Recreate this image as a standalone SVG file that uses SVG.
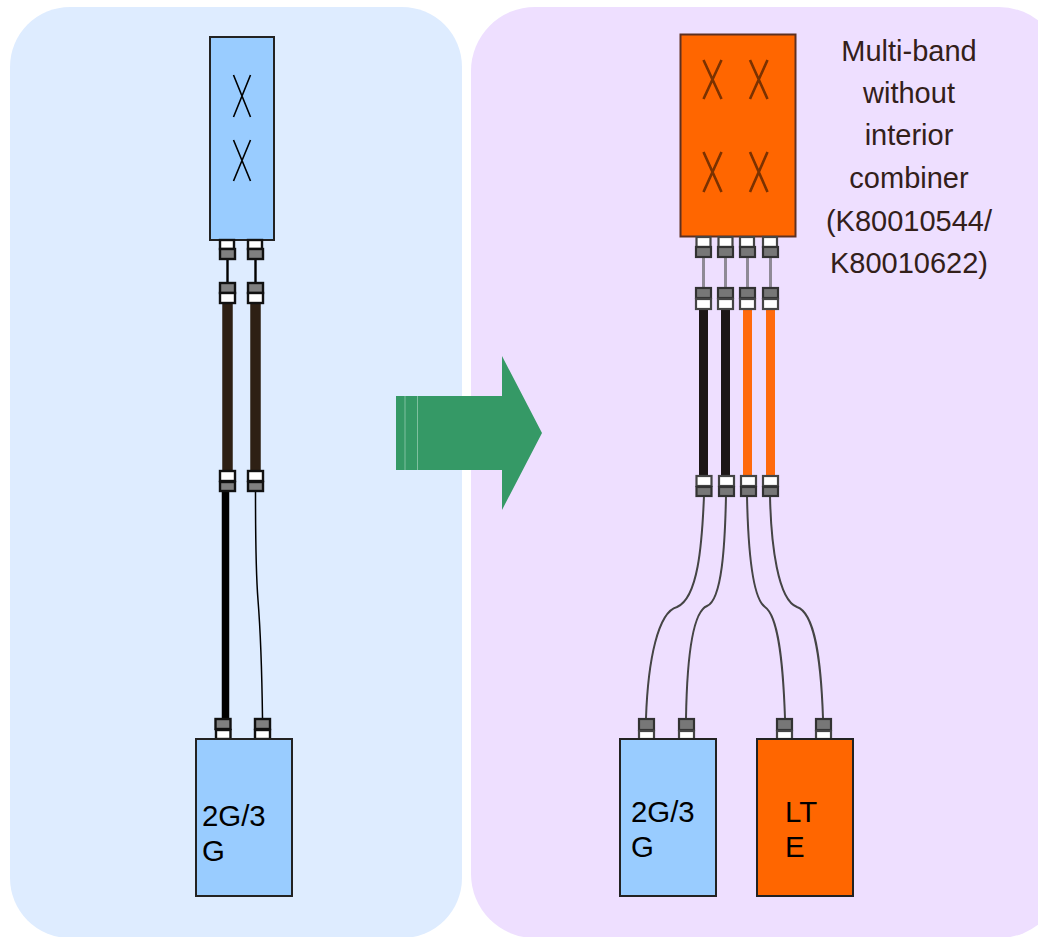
<svg xmlns="http://www.w3.org/2000/svg" width="1038" height="937" viewBox="0 0 1038 937">
<defs><filter id="soft" x="-5%" y="-5%" width="110%" height="110%"><feGaussianBlur stdDeviation="0.5"/></filter></defs>
<style>
.t{font-family:"Liberation Sans",Arial,sans-serif;font-size:29.4px;fill:#000}
.n{font-family:"Liberation Sans",Arial,sans-serif;font-size:29px;fill:#33201a;text-anchor:middle}
.w{fill:#fff;stroke:#111;stroke-width:2.400}
.g{fill:#808080;stroke:#111;stroke-width:2.400}
.w2{fill:#fff;stroke:#444;stroke-width:2.200}
.g2{fill:#777;stroke:#333;stroke-width:2.200}
.x{stroke:#000;stroke-width:1.600;fill:none}
.x2{stroke:#7a3000;stroke-width:2.600;fill:none}
.box{stroke:#222;stroke-width:2}
.c{fill:none;stroke:#000}
.c2{fill:none;stroke:#444;stroke-width:2}
</style>
<g id="panels">
<rect id="panel-left" x="10" y="7" width="452" height="931" rx="60" fill="#deecff"/>
<rect id="panel-right" x="471" y="7" width="592" height="931" rx="64" fill="#eedfff"/>
</g>
<g id="connectors">
<path class="c" stroke-width="2.400" d="M227.500 259V283M255.500 259V283"/>
<path d="M227.500 303V470M255.500 303V470" fill="none" stroke="#2e2014" stroke-width="10.500"/>
<path class="c" stroke-width="7.500" d="M225.500 491V718"/>
<path class="c" stroke-width="1.500" d="M255.500 491C255.500 540 256 575 258 600C260 625 262 680 262.500 718"/>
<g filter="url(#soft)">
<path d="M703.500 257V288M725.500 257V288M747.500 257V288M770.500 257V288" fill="none" stroke="#8f8a96" stroke-width="3"/>
<path d="M703.500 309V476M725.500 309V476" fill="none" stroke="#1e1712" stroke-width="9"/>
<path d="M747.500 309V476M770.500 309V476" fill="none" stroke="#ff6a0a" stroke-width="9"/>
<path class="c2" d="M704 496C702 545 698 598 677 607C658 612 648 660 646 718"/>
<path class="c2" d="M726 496C725 545 722 600 707 606C692 612 687 660 686 718"/>
<path class="c2" d="M747 496C748 545 752 598 765 607C778 616 783 660 785 718"/>
<path class="c2" d="M770 496C771 545 778 600 797 607C815 613 821 660 823 718"/>
</g>
</g>
<g id="arrow">
<path d="M396 396H502V356L542 433L502 510V470H396Z" fill="#359966"/>
<path d="M405 396V470M417.500 396V470" stroke="#7fbf9f" stroke-width="1"/>
</g>
<g id="antenna-left">
<rect class="box" x="210" y="37" width="64" height="203" fill="#99ccff"/>
<path class="x" d="M233.500 75L250.500 117M250.500 75L233.500 117M233.500 140L250.500 181M250.500 140L233.500 181"/>
</g>
<g id="antenna-right">
<rect x="680.500" y="34.500" width="115" height="202" fill="#ff6600" stroke="#5e3020" stroke-width="2"/>
<path class="x2" filter="url(#soft)" d="M703.500 60L721.500 99M721.500 60L703.500 99M750 60L767.500 99M767.500 60L750 99M703.500 152L721.500 192M721.500 152L703.500 192M750 152L767.500 192M767.500 152L750 192"/>
</g>
<g id="jumpers-left">
<rect class="w" x="220" y="240" width="14" height="9"/><rect class="g" x="220" y="249" width="15" height="10"/>
<rect class="w" x="248" y="240" width="14" height="9"/><rect class="g" x="248" y="249" width="15" height="10"/>
<rect class="g" x="220" y="283" width="15" height="10"/><rect class="w" x="220" y="293" width="15" height="10"/>
<rect class="g" x="248" y="283" width="15" height="10"/><rect class="w" x="248" y="293" width="15" height="10"/>
<rect class="w" x="220" y="471" width="15" height="10"/><rect class="g" x="220" y="482" width="15" height="9"/>
<rect class="w" x="248" y="471" width="15" height="10"/><rect class="g" x="248" y="482" width="15" height="9"/>
<rect class="g" x="215.500" y="719" width="15" height="10"/><rect class="w" x="216" y="730" width="14.500" height="9"/>
<rect class="g" x="255" y="719" width="15" height="10"/><rect class="w" x="255" y="730" width="15" height="9"/>
</g>
<g id="jumpers-right" filter="url(#soft)">
<rect class="w2" x="696.500" y="237" width="14" height="10"/><rect class="g2" x="696" y="247" width="15" height="10"/>
<rect class="w2" x="718.500" y="237" width="14" height="10"/><rect class="g2" x="718" y="247" width="15" height="10"/>
<rect class="w2" x="740" y="237" width="14" height="10"/><rect class="g2" x="740" y="247" width="15" height="10"/>
<rect class="w2" x="763" y="237" width="14" height="10"/><rect class="g2" x="763" y="247" width="15" height="10"/>
<rect class="g2" x="696" y="288" width="15" height="10"/><rect class="w2" x="696" y="299" width="15" height="10"/>
<rect class="g2" x="718" y="288" width="15" height="10"/><rect class="w2" x="718" y="299" width="15" height="10"/>
<rect class="g2" x="740" y="288" width="15" height="10"/><rect class="w2" x="740" y="299" width="15" height="10"/>
<rect class="g2" x="763" y="288" width="15" height="10"/><rect class="w2" x="763" y="299" width="15" height="10"/>
<rect class="w2" x="696.500" y="476" width="15" height="10"/><rect class="g2" x="696.500" y="487" width="15" height="9"/>
<rect class="w2" x="719" y="476" width="15" height="10"/><rect class="g2" x="719" y="487" width="15" height="9"/>
<rect class="w2" x="741" y="476" width="15" height="10"/><rect class="g2" x="741" y="487" width="15" height="9"/>
<rect class="w2" x="763" y="476" width="15" height="10"/><rect class="g2" x="763" y="487" width="15" height="9"/>
<rect class="g2" x="639" y="719" width="15" height="11"/><rect class="w2" x="639" y="731" width="15" height="8"/>
<rect class="g2" x="679" y="719" width="15" height="11"/><rect class="w2" x="679" y="731" width="15" height="8"/>
<rect class="g2" x="777" y="719" width="15" height="11"/><rect class="w2" x="777" y="731" width="15" height="8"/>
<rect class="g2" x="816" y="719" width="15" height="11"/><rect class="w2" x="816" y="731" width="15" height="8"/>
</g>
<g id="radio-left">
<rect class="box" x="196" y="739" width="96" height="157" fill="#99ccff"/>
<text class="t" x="202" y="826">2G/3</text><text class="t" x="202" y="861">G</text>
</g>
<g id="radio-2g3g">
<rect class="box" x="620" y="739" width="96" height="157" fill="#99ccff"/>
<text class="t" x="631" y="822">2G/3</text><text class="t" x="631" y="857">G</text>
</g>
<g id="radio-lte">
<rect class="box" x="757" y="739" width="96" height="157" fill="#ff6600"/>
<text class="t" x="785" y="822">LT</text><text class="t" x="785" y="857">E</text>
</g>
<g id="note">
<text class="n" x="909" y="61">Multi-band</text>
<text class="n" x="909" y="103">without</text>
<text class="n" x="909" y="145">interior</text>
<text class="n" x="909" y="188">combiner</text>
<text class="n" x="909" y="231">(K80010544/</text>
<text class="n" x="909" y="273">K80010622)</text>
</g>
</svg>
